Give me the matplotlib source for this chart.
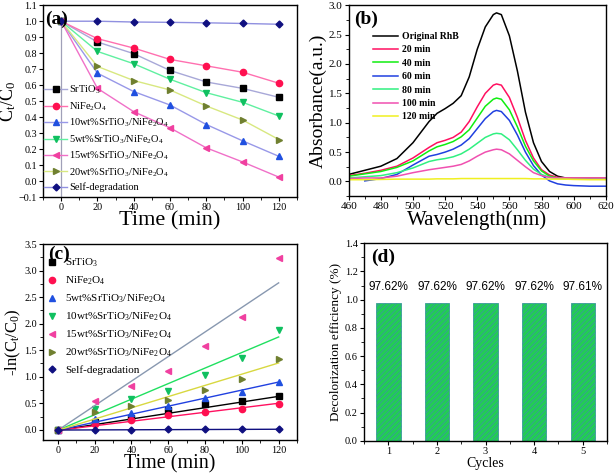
import matplotlib
matplotlib.use("Agg")
import matplotlib.pyplot as plt
from matplotlib.ticker import MultipleLocator
import numpy as np

plt.rcParams['font.family'] = ['Liberation Serif', 'DejaVu Serif']
plt.rcParams['mathtext.default'] = 'regular'
plt.rcParams['hatch.linewidth'] = 0.6

# ---- panel (a): Ct/C0 vs time
time = [0, 20, 40, 60, 80, 100, 120]
a_labels = ['SrTiO$_3$', 'NiFe$_2$O$_4$', '10wt%SrTiO$_3$/NiFe$_2$O$_4$',
            '5wt%SrTiO$_3$/NiFe$_2$O$_4$', '15wt%SrTiO$_3$/NiFe$_2$O$_4$',
            '20wt%SrTiO$_3$/NiFe$_2$O$_4$', 'Self-degradation']
a_srtio3 = [1.0, 0.870, 0.797, 0.692, 0.620, 0.580, 0.524]
a_nife2o4 = [1.0, 0.891, 0.832, 0.761, 0.721, 0.681, 0.612]
a_10wt = [1.0, 0.675, 0.560, 0.476, 0.354, 0.252, 0.155]
a_5wt = [1.0, 0.811, 0.734, 0.637, 0.553, 0.493, 0.407]
a_15wt = [1.0, 0.580, 0.434, 0.333, 0.208, 0.120, 0.025]
a_20wt = [1.0, 0.717, 0.629, 0.570, 0.470, 0.382, 0.260]
a_self = [1.0, 1.0, 0.995, 0.993, 0.990, 0.986, 0.981]

# ---- panel (b): absorbance spectra
wavelength = [460, 470, 480, 490, 500, 510, 515, 520, 525, 530, 535, 540, 545, 550,
              552, 555, 560, 565, 570, 575, 580, 585, 590, 595, 600, 610, 620]
b_labels = ['Original RhB', '20 min', '40 min', '60 min', '80 min', '100 min', '120 min']
b_orig = [0.12, 0.19, 0.26, 0.39, 0.66, 1.02, 1.16, 1.24, 1.33, 1.46, 1.78, 2.25, 2.63, 2.84,
          2.87, 2.84, 2.48, 1.88, 1.18, 0.66, 0.34, 0.17, 0.09, 0.06, 0.05, 0.05, 0.05]
b_20 = [0.10, 0.14, 0.19, 0.26, 0.40, 0.58, 0.66, 0.70, 0.75, 0.84, 1.02, 1.27, 1.50, 1.64,
        1.66, 1.64, 1.43, 1.09, 0.70, 0.40, 0.20, 0.11, 0.07, 0.06, 0.06, 0.06, 0.06]
b_40 = [0.09, 0.13, 0.17, 0.24, 0.35, 0.52, 0.59, 0.63, 0.68, 0.76, 0.88, 1.08, 1.28, 1.40,
        1.42, 1.40, 1.22, 0.93, 0.60, 0.35, 0.18, 0.09, 0.06, 0.05, 0.05, 0.05, 0.05]
b_60 = [np.nan, 0.01, 0.05, 0.12, 0.28, 0.43, 0.46, 0.50, 0.55, 0.62, 0.73, 0.90, 1.07, 1.19,
        1.21, 1.19, 1.04, 0.79, 0.50, 0.27, 0.11, 0.01, -0.04, -0.06, -0.07, -0.08, -0.08]
b_80 = [0.06, 0.08, 0.10, 0.15, 0.23, 0.34, 0.37, 0.39, 0.42, 0.47, 0.55, 0.65, 0.75, 0.81,
        0.82, 0.81, 0.71, 0.54, 0.36, 0.21, 0.12, 0.07, 0.05, 0.04, 0.04, 0.04, 0.04]
b_100 = [0.05, 0.06, 0.06, 0.09, 0.15, 0.20, 0.22, 0.24, 0.26, 0.29, 0.35, 0.43, 0.50, 0.54,
         0.55, 0.54, 0.47, 0.36, 0.25, 0.15, 0.10, 0.07, 0.06, 0.06, 0.06, 0.06, 0.06]
b_120 = [0.03, 0.03, 0.035, 0.04, 0.04, 0.04, 0.045, 0.045, 0.045, 0.05, 0.05, 0.05, 0.05, 0.05,
         0.05, 0.05, 0.05, 0.05, 0.05, 0.045, 0.045, 0.04, 0.04, 0.04, 0.035, 0.03, 0.03]

# ---- panel (c): -ln(Ct/C0) vs time with linear fits
c_labels = ['SrTiO$_3$', 'NiFe$_2$O$_4$', '5wt%SrTiO$_3$/NiFe$_2$O$_4$',
            '10wt%SrTiO$_3$/NiFe$_2$O$_4$', '15wt%SrTiO$_3$/NiFe$_2$O$_4$',
            '20wt%SrTiO$_3$/NiFe$_2$O$_4$', 'Self-degradation']
c_srtio3 = [0.0, 0.14, 0.23, 0.37, 0.48, 0.545, 0.645]
c_nife2o4 = [0.0, 0.115, 0.186, 0.274, 0.327, 0.386, 0.49]
c_5wt = [0.0, 0.20, 0.31, 0.45, 0.60, 0.71, 0.90]
c_10wt = [0.0, 0.39, 0.575, 0.74, 1.04, 1.36, 1.875]
c_15wt = [0.0, 0.55, 0.83, 1.11, 1.575, 2.125, 3.23]
c_20wt = [0.0, 0.33, 0.45, 0.56, 0.75, 0.96, 1.34]
c_self = [0.0, 0.0, 0.005, 0.007, 0.01, 0.014, 0.019]
fit_time = [0, 120]
fit_srtio3 = [-0.01, 0.63]
fit_nife2o4 = [-0.01, 0.50]
fit_5wt = [-0.01, 0.90]
fit_10wt = [-0.01, 1.75]
fit_15wt = [-0.01, 2.77]
fit_20wt = [-0.01, 1.26]
fit_self = [-0.005, 0.01]

# ---- panel (d): recycling
cycles = [1, 2, 3, 4, 5]
efficiency = [0.9762, 0.9762, 0.9762, 0.9762, 0.9761]
eff_labels = ['97.62%', '97.62%', '97.62%', '97.62%', '97.61%']

fig = plt.figure(figsize=(6.15, 4.75), dpi=100)
ax_a = fig.add_axes([0.070, 0.585, 0.413, 0.404])
ax_b = fig.add_axes([0.567, 0.587, 0.418, 0.402])
ax_c = fig.add_axes([0.070, 0.074, 0.413, 0.412])
ax_d = fig.add_axes([0.592, 0.072, 0.395, 0.416])


def style_axis(ax, tsize=8):
    ax.tick_params(which='both', direction='out', top=False, right=False, labelsize=tsize,
                   pad=1.5)
    ax.tick_params(which='major', length=3, width=0.8)
    ax.tick_params(which='minor', length=2, width=0.6)
    for s in ax.spines.values():
        s.set_linewidth(1.0)


# (a)
a_series = [a_srtio3, a_nife2o4, a_10wt, a_5wt, a_15wt, a_20wt, a_self]
a_markers = ['s', 'o', '^', 'v', '<', '>', 'D']
a_mcolors = ['#000000', '#ff1050', '#2050e0', '#10c060', '#f040a0', '#708030', '#101080']
a_lcolors = ['#a8a8d8', '#ff70b0', '#9898e8', '#60f0a0', '#f070c8', '#d8e880', '#9090e0']
ax_a.vlines(0, -0.1, 1.0, color='#a0a0b8', lw=0.9)
for vals, lab, m, mc, lc in zip(a_series, a_labels, a_markers, a_mcolors, a_lcolors):
    ax_a.plot(time, vals, color=lc, lw=1.0, marker=m, ms=4.5 if m != 'D' else 3.5,
              mfc=mc, mec=mc, label=lab)
ax_a.set_xlim(-10, 130)
ax_a.set_ylim(-0.1, 1.1)
ax_a.xaxis.set_major_locator(MultipleLocator(20))
ax_a.xaxis.set_minor_locator(MultipleLocator(10))
ax_a.yaxis.set_major_locator(MultipleLocator(0.1))
ax_a.set_xlabel('Time (min)', fontsize=16, labelpad=-1)
ax_a.set_ylabel('C$_t$/C$_0$', fontsize=13, labelpad=0)
style_axis(ax_a, tsize=7.3)
ax_a.legend(loc='lower left', bbox_to_anchor=(0.0, 0.02), frameon=False, fontsize=7.5,
            handlelength=2.2, handletextpad=0.2, labelspacing=0.38, borderaxespad=0,
            borderpad=0.1)
ax_a.text(0.01, 0.97, '(a)', transform=ax_a.transAxes, fontsize=14, fontweight='bold',
          va='top', ha='left')

# (b)
b_series = [b_orig, b_20, b_40, b_60, b_80, b_100, b_120]
b_colors = ['#000000', '#ff1060', '#10ee10', '#2040e0', '#30f080', '#f050b0', '#f0f020']
for vals, lab, c in zip(b_series, b_labels, b_colors):
    ax_b.plot(wavelength, vals, color=c, lw=1.1, label=lab)
ax_b.set_xlim(460, 620)
ax_b.set_ylim(-0.25, 3.0)
ax_b.xaxis.set_major_locator(MultipleLocator(20))
ax_b.xaxis.set_minor_locator(MultipleLocator(10))
ax_b.yaxis.set_major_locator(MultipleLocator(0.5))
ax_b.yaxis.set_minor_locator(MultipleLocator(0.25))
ax_b.set_xlabel('Wavelength(nm)', fontsize=15, labelpad=-1)
ax_b.set_ylabel('Absorbance(a.u.)', fontsize=14, labelpad=1)
style_axis(ax_b)
ax_b.legend(loc='upper left', bbox_to_anchor=(0.08, 0.88), frameon=False,
            handlelength=2.6, handletextpad=0.4, labelspacing=0.45, borderaxespad=0,
            prop={'weight': 'bold', 'size': 7})
ax_b.text(0.02, 0.97, '(b)', transform=ax_b.transAxes, fontsize=14, fontweight='bold',
          va='top', ha='left')

# (c)
c_series = [c_srtio3, c_nife2o4, c_5wt, c_10wt, c_15wt, c_20wt, c_self]
c_fits = [fit_srtio3, fit_nife2o4, fit_5wt, fit_10wt, fit_15wt, fit_20wt, fit_self]
c_markers = ['s', 'o', '^', 'v', '<', '>', 'D']
c_mcolors = ['#000000', '#ff1050', '#2050e0', '#10c060', '#f040a0', '#708030', '#101080']
c_lcolors = ['#000000', '#ff1060', '#2040e0', '#20e060', '#8898b0', '#d8d840', '#101080']
for vals, fit, lab, m, mc, lc in zip(c_series, c_fits, c_labels, c_markers, c_mcolors, c_lcolors):
    ax_c.plot(fit_time, fit, color=lc, lw=1.0)
    ax_c.plot(time, vals, ls='none', marker=m, ms=4.5 if m != 'D' else 3.5,
              mfc=mc, mec=mc, label=lab)
ax_c.set_xlim(-8, 130)
ax_c.set_ylim(-0.19, 3.5)
ax_c.xaxis.set_major_locator(MultipleLocator(20))
ax_c.xaxis.set_minor_locator(MultipleLocator(10))
ax_c.yaxis.set_major_locator(MultipleLocator(0.5))
ax_c.yaxis.set_minor_locator(MultipleLocator(0.25))
ax_c.set_xlabel('Time (min)', fontsize=14.5, labelpad=-0.5)
ax_c.set_ylabel('-ln(C$_t$/C$_0$)', fontsize=12, labelpad=1)
style_axis(ax_c, tsize=7.3)
ax_c.legend(loc='upper left', bbox_to_anchor=(-0.01, 0.96), frameon=False, fontsize=8,
            handlelength=1.2, handletextpad=0.6, labelspacing=0.5, borderaxespad=0)
ax_c.text(0.02, 0.99, '(c)', transform=ax_c.transAxes, fontsize=14, fontweight='bold',
          va='top', ha='left')

# (d)
ax_d.bar(cycles, efficiency, width=0.5, color='#22cc55', edgecolor='#3a9a9a',
         hatch='//////', lw=0.6)
for x, v, t in zip(cycles, efficiency, eff_labels):
    ax_d.text(x, v + 0.07, t, ha='center', va='bottom', fontsize=8.5,
              family=['Liberation Sans', 'DejaVu Sans'])
ax_d.set_xlim(0.5, 5.5)
ax_d.set_ylim(0, 1.4)
ax_d.set_xticks(cycles)
ax_d.xaxis.set_minor_locator(MultipleLocator(0.5))
ax_d.yaxis.set_major_locator(MultipleLocator(0.2))
ax_d.yaxis.set_minor_locator(MultipleLocator(0.1))
ax_d.set_xlabel('Cycles', fontsize=10, labelpad=1)
ax_d.set_ylabel('Decolorization efficiency (%)', fontsize=9.5, labelpad=2)
style_axis(ax_d, tsize=7.5)
ax_d.text(0.03, 0.97, '(d)', transform=ax_d.transAxes, fontsize=14, fontweight='bold',
          va='top', ha='left')

fig.savefig('out.png', dpi=100)
